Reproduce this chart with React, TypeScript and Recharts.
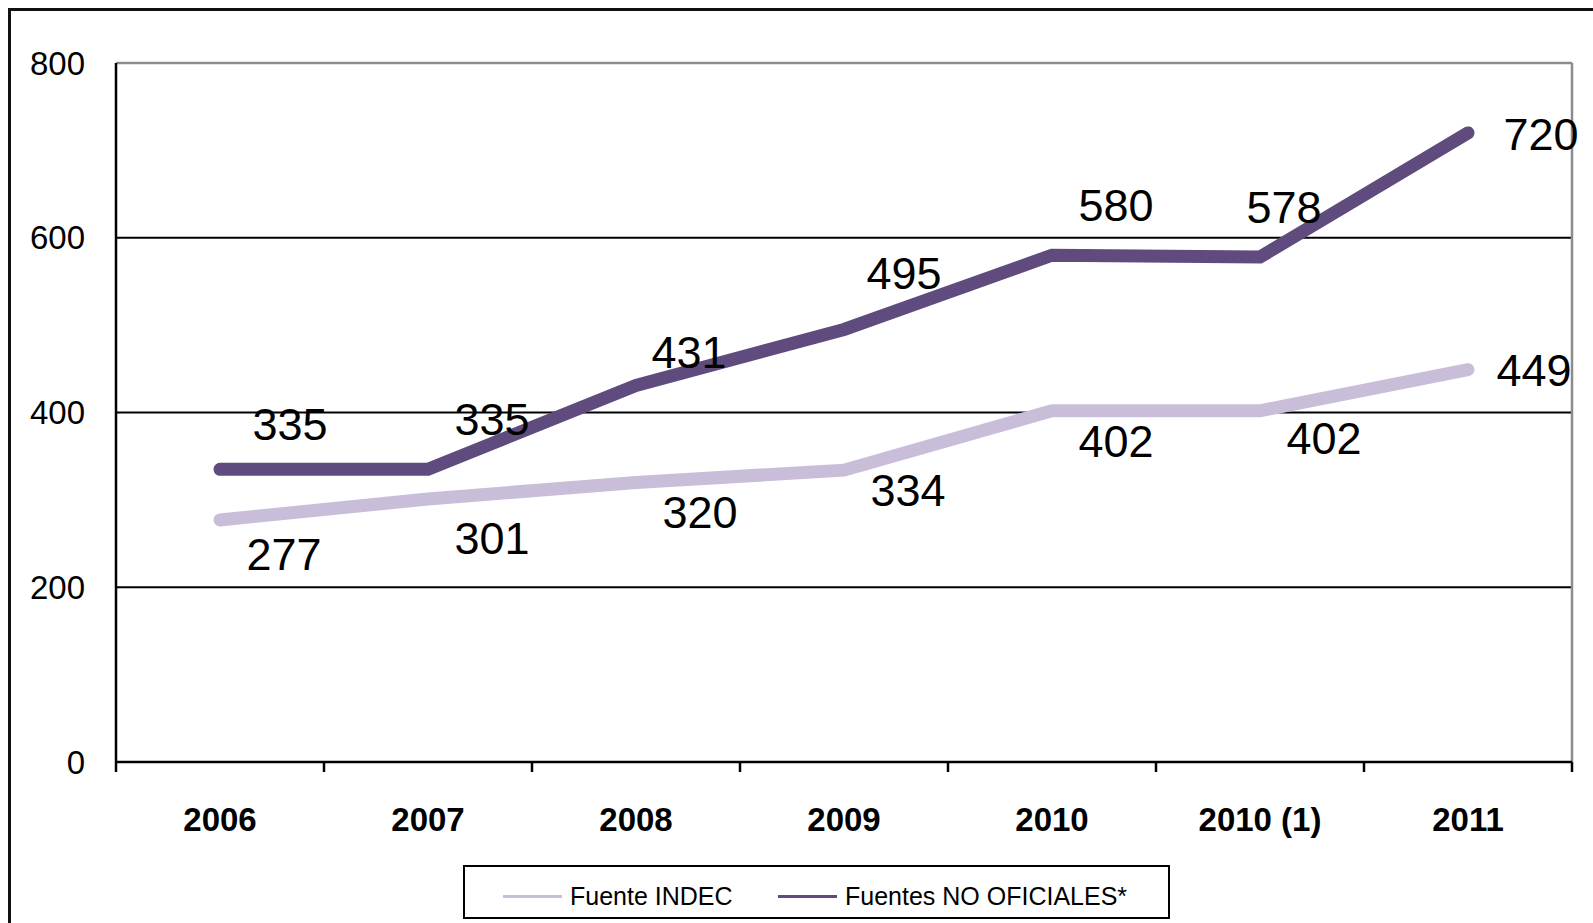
import { LineChart, Line, XAxis, YAxis, CartesianGrid } from 'recharts';

// ── Datos ──────────────────────────────────────────────────

const categories = ['2006', '2007', '2008', '2009', '2010', '2010 (1)', '2011'];
const indec = [277, 301, 320, 334, 402, 402, 449];
const noOficiales = [335, 335, 431, 495, 580, 578, 720];
const yTicks = [0, 200, 400, 600, 800];
const seriesNames = ['Fuente INDEC', 'Fuentes NO OFICIALES*'];

const data = categories.map((year, i) => ({
  year,
  indec: indec[i],
  noOficiales: noOficiales[i],
}));

// ── Estilos ────────────────────────────────────────────────

const FONT = '"Liberation Sans", Arial, sans-serif';
const LIGHT = '#C9BEDA';
const DARK = '#604B7E';
const LAST = categories.length - 1;

// Ajustes manuales de las etiquetas (como en el gráfico original)
const nudgeDark: Record<number, [number, number]> = {
  0: [6, 5],
  2: [-11, 17],
  3: [-4, -6],
  5: [-40, 0],
};
const nudgeLight: Record<number, [number, number]> = {
  0: [0, 4],
  1: [0, 9],
  3: [0, -10],
  5: [0, -3],
};

// ── Etiquetas ──────────────────────────────────────────────

function makeLabel(kind: 'light' | 'dark') {
  return (props: any) => {
    const { x, y, value, index } = props;
    if (x == null || y == null) return null;
    let dx = 64;
    let dy = kind === 'dark' ? -50 : 30;
    if (index === LAST) {
      dx = kind === 'dark' ? 73 : 66;
      dy = 1;
    }
    const n = (kind === 'dark' ? nudgeDark : nudgeLight)[index];
    if (n) {
      dx += n[0];
      dy += n[1];
    }
    return (
      <text
        x={x + dx}
        y={y + dy}
        dy="0.35em"
        textAnchor="middle"
        fontFamily={FONT}
        fontSize={45}
        fill="#000"
      >
        {value}
      </text>
    );
  };
}

function XTick(props: any) {
  const { x, y, payload, index } = props;
  const half = payload?.offset || 104;
  return (
    <g>
      <line x1={x - half} y1={y} x2={x - half} y2={y + 10} stroke="#000" strokeWidth={2.5} />
      {index === LAST && (
        <line x1={x + half} y1={y} x2={x + half} y2={y + 10} stroke="#000" strokeWidth={2.5} />
      )}
      <text
        x={x}
        y={y + 57}
        dy="0.35em"
        textAnchor="middle"
        fontFamily={FONT}
        fontWeight="bold"
        fontSize={33}
        fill="#000"
      >
        {payload.value}
      </text>
    </g>
  );
}

// ── Componente ─────────────────────────────────────────────

export default function App() {
  return (
    <div
      style={{
        position: 'absolute',
        left: 0,
        top: 0,
        width: 1593,
        height: 923,
        overflow: 'hidden',
        background: '#fff',
        fontFamily: FONT,
      }}
    >
      <div
        style={{
          position: 'absolute',
          left: 8,
          top: 8,
          width: 1700,
          height: 1000,
          border: '3px solid #111',
          boxSizing: 'border-box',
        }}
      />
      <div style={{ position: 'absolute', left: 0, top: 0 }}>
        <LineChart
          width={1593}
          height={923}
          data={data}
          margin={{ top: 63, right: 21, bottom: 101, left: 0 }}
        >
          <CartesianGrid vertical={false} stroke="#000" strokeWidth={2} />
          <CartesianGrid
            stroke="#8C8C8C"
            strokeWidth={2.5}
            horizontalCoordinatesGenerator={({ offset }: any) => [offset.top]}
            verticalCoordinatesGenerator={({ offset }: any) => [offset.left + offset.width]}
          />
          <XAxis
            dataKey="year"
            scale="band"
            height={60}
            interval={0}
            tickSize={0}
            tickMargin={0}
            tickLine={false}
            axisLine={{ stroke: '#000', strokeWidth: 2.5 }}
            tick={<XTick />}
          />
          <YAxis
            width={116}
            domain={[0, 800]}
            ticks={yTicks}
            interval={0}
            tickLine={false}
            tickSize={0}
            tickMargin={31}
            axisLine={{ stroke: '#000', strokeWidth: 2.5 }}
            tick={{ fill: '#000', fontSize: 33, fontFamily: FONT }}
          />
          <Line
            dataKey="indec"
            name={seriesNames[0]}
            stroke={LIGHT}
            strokeWidth={13}
            strokeLinecap="round"
            dot={false}
            activeDot={false}
            isAnimationActive={false}
            label={makeLabel('light')}
          />
          <Line
            dataKey="noOficiales"
            name={seriesNames[1]}
            stroke={DARK}
            strokeWidth={13}
            strokeLinecap="round"
            dot={false}
            activeDot={false}
            isAnimationActive={false}
            label={makeLabel('dark')}
          />
        </LineChart>
      </div>
      {/* Leyenda */}
      <div
        style={{
          position: 'absolute',
          left: 463,
          top: 865,
          width: 707,
          height: 54,
          border: '2px solid #000',
          boxSizing: 'border-box',
          background: '#fff',
        }}
      >
        {[LIGHT, DARK].map((color, i) => (
          <div
            key={seriesNames[i]}
            style={{
              position: 'absolute',
              left: i === 0 ? 38 : 313,
              top: 0,
              height: 50,
              display: 'flex',
              alignItems: 'center',
              paddingTop: 8,
              boxSizing: 'border-box',
            }}
          >
            <span
              style={{
                display: 'inline-block',
                width: 59,
                height: 3,
                background: color,
                marginRight: 8,
              }}
            />
            <span style={{ fontSize: 25, color: '#000', whiteSpace: 'nowrap' }}>
              {seriesNames[i]}
            </span>
          </div>
        ))}
      </div>
    </div>
  );
}
